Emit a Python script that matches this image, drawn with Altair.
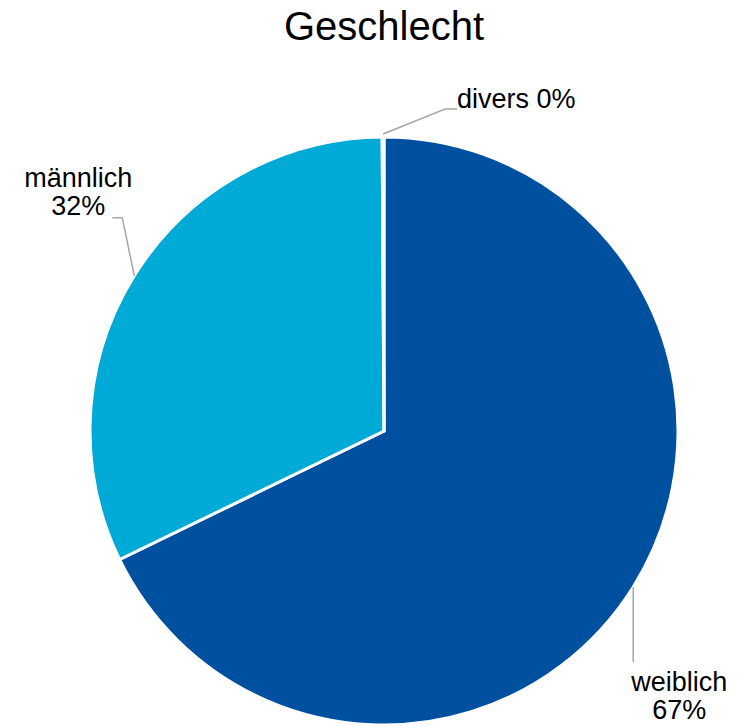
import math
import altair as alt
import pandas as pd

# ---- data ----
categories = ["weiblich", "männlich", "divers"]
values = [67.8, 32.1, 0.1]
label_lines = [["weiblich", "67%"], ["männlich", "32%"], ["divers 0%"]]
colors = ["#0050A0", "#00AAD7", "#7F7F7F"]
title_text = "Geschlecht"

# ---- layout (view coordinates; page margin is 8px) ----
PAD_TOP = 20
W, H = 724, 726 - PAD_TOP
CX, CY, R = 376, 431 - 8 - PAD_TOP, 294
FONT = "Liberation Sans"

pie_df = pd.DataFrame({"cat": categories, "val": values,
                       "order": list(range(len(categories)))})

# angles of slice mid-points (clockwise from 12 o'clock)
total = sum(values)
mids = []
acc = 0.0
for v in values:
    mids.append((acc + v / 2) / total * 2 * math.pi)
    acc += v

def edge(a, r):
    return CX + r * math.sin(a), CY - r * math.cos(a)

# leader-line shapes relative to the slice edge point
leader_rows = []
text_rows = []
shapes = {
    "weiblich": [(0, 0), (0, 75)],
    "männlich": [(0, 0), (-12, -58), (-22, -58)],
    "divers": [(0, -3), (62, -28), (74, -28)],
}
text_anchor = {
    "weiblich": (46, 104, "center"),
    "männlich": (-56, -89, "center"),
    "divers": (74, -29, "left"),
}
for i, cat in enumerate(categories):
    ex, ey = edge(mids[i], R)
    for j, (dx, dy) in enumerate(shapes[cat]):
        leader_rows.append({"cat": cat, "k": j, "x": ex + dx, "y": ey + dy})
    tx, ty, al = text_anchor[cat]
    text_rows.append({"cat": cat, "x": ex + tx, "y": ey + ty,
                      "txt": label_lines[i], "al": al})

leader_df = pd.DataFrame(leader_rows)
text_df = pd.DataFrame(text_rows)

pie = alt.Chart(pie_df).mark_arc(
    outerRadius=R, stroke="white", strokeWidth=3
).encode(
    theta=alt.Theta("val:Q", stack=True),
    order=alt.Order("order:Q"),
    color=alt.Color("cat:N", scale=alt.Scale(domain=categories, range=colors), legend=None),
    x=alt.value(CX), y=alt.value(CY),
)

leaders = alt.Chart(leader_df).mark_line(color="#A6A6A6", strokeWidth=1.5).encode(
    x=alt.X("x:Q", scale=None), y=alt.Y("y:Q", scale=None),
    detail="cat:N", order="k:Q",
)

def text_layer(al):
    return alt.Chart(text_df[text_df["al"] == al]).mark_text(
        font=FONT, fontSize=27, color="black", align=al, baseline="alphabetic",
        lineHeight=28,
    ).encode(
        x=alt.X("x:Q", scale=None), y=alt.Y("y:Q", scale=None), text="txt",
    )

title = alt.Chart(pd.DataFrame({"t": [title_text]})).mark_text(
    font=FONT, fontSize=40, color="black", align="center", baseline="alphabetic",
).encode(x=alt.value(CX), y=alt.value(40 - 8 - PAD_TOP), text="t:N")

chart = alt.layer(pie, leaders, text_layer("center"), text_layer("left"), title).properties(
    width=W, height=H,
    padding={"left": 0, "top": PAD_TOP, "right": 0, "bottom": 0},
    autosize=alt.AutoSizeParams(type="none"),
).configure_view(stroke=None)

chart.save("out.html", embed_options={"renderer": "svg", "actions": False})
